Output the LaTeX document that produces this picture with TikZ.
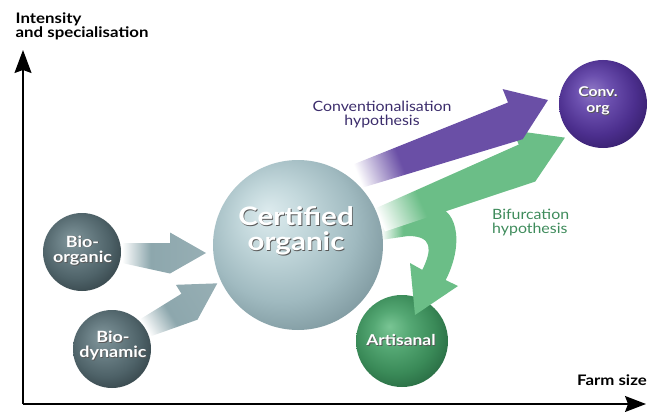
\documentclass[tikz,border=0pt]{standalone}
\usepackage{fontspec}
\setmainfont{Lato}[FakeStretch=1.12]
\newfontfamily\bfont{Lato}[FakeStretch=1.16]
\usetikzlibrary{arrows.meta}

\definecolor{purpA}{HTML}{6A4FA6}
\definecolor{greenA}{HTML}{6BBE87}
\definecolor{slateA}{HTML}{8DA7AD}
\definecolor{convtext}{HTML}{3B2C6B}
\definecolor{biftext}{HTML}{3E8B5B}

\definecolor{slA}{HTML}{82979C}\definecolor{slB}{HTML}{6A7F85}\definecolor{slC}{HTML}{4E6268}\definecolor{slD}{HTML}{2F3D42}
\definecolor{ceA}{HTML}{DDEBEE}\definecolor{ceB}{HTML}{C2D7DB}\definecolor{ceC}{HTML}{A0BAC0}\definecolor{ceD}{HTML}{6F8990}
\definecolor{puA}{HTML}{8D76C4}\definecolor{puB}{HTML}{6B4FAE}\definecolor{puC}{HTML}{4C2F8E}\definecolor{puD}{HTML}{301A62}
\definecolor{grA}{HTML}{79C594}\definecolor{grB}{HTML}{55A874}\definecolor{grC}{HTML}{3A8A58}\definecolor{grD}{HTML}{22603B}
\colorlet{slateL}{slateA!85!white}

\pgfdeclarehorizontalshading{purpfade}{100bp}{color(0bp)=(white); color(25bp)=(white); color(36bp)=(purpA); color(100bp)=(purpA)}
\pgfdeclarehorizontalshading{greenfade}{100bp}{color(0bp)=(white); color(25bp)=(white); color(36bp)=(greenA); color(100bp)=(greenA)}
\pgfdeclarehorizontalshading{greenfadeB}{100bp}{color(0bp)=(white); color(25bp)=(white); color(38bp)=(greenA); color(100bp)=(greenA)}
\pgfdeclarehorizontalshading{slatefade}{100bp}{color(0bp)=(white); color(25bp)=(white); color(42bp)=(slateA); color(100bp)=(slateL)}

\pgfdeclareradialshading{slateball}{\pgfqpoint{-7bp}{8bp}}{color(0bp)=(slA); color(10bp)=(slB); color(22bp)=(slC); color(34bp)=(slD); color(50bp)=(slD)}
\pgfdeclareradialshading{certball}{\pgfqpoint{-9bp}{10bp}}{color(0bp)=(ceA); color(10bp)=(ceB); color(22bp)=(ceC); color(36bp)=(ceD); color(50bp)=(ceD)}
\pgfdeclareradialshading{purpball}{\pgfqpoint{-7bp}{8bp}}{color(0bp)=(puA); color(10bp)=(puB); color(22bp)=(puC); color(34bp)=(puD); color(50bp)=(puD)}
\pgfdeclareradialshading{greenball}{\pgfqpoint{-7bp}{8bp}}{color(0bp)=(grA); color(10bp)=(grB); color(22bp)=(grC); color(34bp)=(grD); color(50bp)=(grD)}

% #1 x, #2 y, #3 angle, #4 length, #5 head length, #6 half head width, #7 half shaft width, #8 shading
\newcommand\fatarrow[8]{%
  \begin{scope}[transform canvas={xshift=#1pt,yshift=-#2pt,rotate=#3}]
    \shade[shading=#8] (0,-#7) -- ({#4-#5},-#7) -- ({#4-#5},-#6) -- (#4,0) -- ({#4-#5},#6) -- (0,#7) -- cycle;
  \end{scope}}

% #1 x, #2 y, #3 font, #4 text, #5 name
\newcommand\balltext[5]{%
  \node[btext,text=black!65,font=#3] at (#1+0.9,#2+0.9) {#4};
  \node[btext,text=white,font=#3] (#5) at (#1,#2) {#4};}

\begin{document}
\begin{tikzpicture}[x=1pt,y=-1pt,
  ball/.style={circle,inner sep=0pt,shade},
  btext/.style={align=center,inner sep=0pt},
  axisline/.style={line width=1.3pt,black},
  hyp/.style={font=\fontsize{14.2}{14}\selectfont,inner sep=0pt}]
\useasboundingbox (0,0) rectangle (654,412);

% axes
\coordinate (O) at (23,404);
\coordinate (ytip) at (23,50);
\coordinate (xtip) at (646,404);
\draw[axisline,-{Stealth[length=23pt,width=17pt,inset=3pt]}] (O) -- (ytip);
\draw[axisline,-{Stealth[length=21pt,width=16pt,inset=3pt]}] (O) -- (xtip);
\node[anchor=west,align=left,inner sep=0pt,font=\bfont\bfseries\fontsize{14.5}{14}\selectfont] (ylab) at (15.5,26.4) {Intensity\\and specialisation};
\node[anchor=base east,inner sep=0pt,font=\bfont\bfseries\fontsize{14.5}{14}\selectfont] (xlab) at (647,385) {Farm size};

% artisanal ball (under the branch arrow)
\node[ball,shading=greenball,minimum size=92pt] (art) at (402,341) {};

% green branch towards Artisanal
\shade[shading=greenfadeB] (381,214) -- (432,207) .. controls (455,205) and (466,240) .. (445.7,280.1)
  -- (458,286) -- (415,315) -- (410,263) -- (422.3,269.9)
  .. controls (432,250) and (433,236) .. (408,236) -- (381,240) -- cycle;

% green main arrow (bifurcation)
\fatarrow{380}{220}{24}{202.5}{45}{28}{12.5}{greenfade}
% purple arrow (conventionalisation)
\fatarrow{358}{176}{21.8}{204.6}{38}{27}{12.5}{purpfade}
% slate arrows
\fatarrow{122}{253}{0}{84}{36}{20.5}{10}{slatefade}
\fatarrow{145}{328}{31.7}{85}{36}{20.5}{10}{slatefade}

% balls
\node[ball,shading=slateball,minimum size=78pt] (bioorg) at (82,252) {};
\node[ball,shading=slateball,minimum size=78pt] (biodyn) at (112,349) {};
\node[ball,shading=certball,minimum size=170pt] (cert) at (298,245) {};
\node[ball,shading=purpball,minimum size=88pt] (conv) at (603,104) {};

% ball texts
\balltext{82.5}{250.5}{\bfont\bfseries\fontsize{15.5}{15.5}\selectfont}{Bio-\\organic}{tbioorg}
\balltext{113}{345.5}{\bfont\bfseries\fontsize{15.5}{15.5}\selectfont}{Bio-\\dynamic}{tbiodyn}
\balltext{296}{231}{\bfont\bfseries\fontsize{25.5}{25}\selectfont}{Certified\\organic}{tcert}
\balltext{598}{101}{\bfont\bfseries\fontsize{13.5}{16.5}\selectfont}{Conv.\\org}{tconv}
\balltext{401}{340}{\bfont\bfseries\fontsize{15}{16}\selectfont}{Artisanal}{tart}

% hypothesis labels
\node[hyp,align=center,text=convtext] (convlab) at (382,114.5) {Conventionalisation\\hypothesis};
\node[hyp,align=left,anchor=west,text=biftext] (biflab) at (492,223) {Bifurcation\\hypothesis};
\end{tikzpicture}
\end{document}
